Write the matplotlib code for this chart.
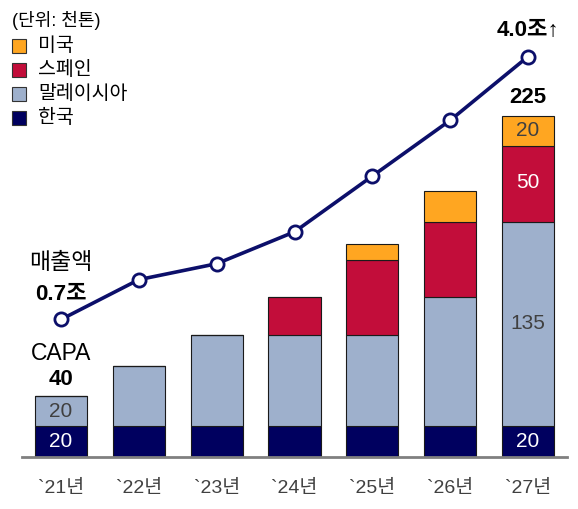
import matplotlib.pyplot as plt
from matplotlib.patches import Rectangle

plt.rcParams['font.family'] = ['Liberation Sans', 'Noto Sans CJK KR']

# 데이터 (단위: 천톤 / 조)
years = ['`21년', '`22년', '`23년', '`24년', '`25년', '`26년', '`27년']
korea = [20, 20, 20, 20, 20, 20, 20]
malaysia = [20, 40, 60, 60, 60, 85, 135]
spain = [0, 0, 0, 25, 50, 50, 50]
usa = [0, 0, 0, 0, 10, 20, 20]
revenue = [0.7, 1.2, 1.4, 1.8, 2.5, 3.2, 4.0]

series = [('한국', korea, '#00005f'),
          ('말레이시아', malaysia, '#9eb0cc'),
          ('스페인', spain, '#c20d3a'),
          ('미국', usa, '#ffa621')]

W, H = 578, 509
fig = plt.figure(figsize=(W / 100, H / 100), dpi=100)
base_px = 52.5
ax = fig.add_axes([0, base_px / H, 1, 1 - base_px / H])
ax.set_xlim(-0.784, 6.642)
ax.set_ylim(0, (H - base_px) / 1.515)
ax.axis('off')

x = list(range(len(years)))
bottom = [0] * len(years)
for name, vals, col in series:
    ax.bar(x, vals, width=0.67, bottom=bottom, color=col,
           edgecolor='#1a1a1a', linewidth=0.8, zorder=2)
    bottom = [b + v for b, v in zip(bottom, vals)]

# 기준선
ax.plot([-0.5, 6.5], [0, 0], color='#808080', lw=2, zorder=3, clip_on=False)

for i, lab in enumerate(years):
    ax.text(i, -21, lab, ha='center', va='center', fontsize=14, color='#404040')

# 막대 내부 값
ax.text(0, korea[0] / 2, str(korea[0]), ha='center', va='center', fontsize=15, color='white', zorder=4)
ax.text(0, korea[0] + malaysia[0] / 2, str(malaysia[0]), ha='center', va='center', fontsize=15, color='#404040', zorder=4)
ax.text(6, korea[6] / 2, str(korea[6]), ha='center', va='center', fontsize=15, color='white', zorder=4)
ax.text(6, korea[6] + malaysia[6] / 2, str(malaysia[6]), ha='center', va='center', fontsize=15, color='#404040', zorder=4)
ax.text(6, korea[6] + malaysia[6] + spain[6] / 2 + 1, str(spain[6]), ha='center', va='center', fontsize=15, color='white', zorder=4)
ax.text(6, bottom[6] - usa[6] / 2, str(usa[6]), ha='center', va='center', fontsize=15, color='#404040', zorder=4)

ax.text(0, bottom[0] + 28, 'CAPA', ha='center', va='center', fontsize=16.5)
ax.text(0, bottom[0] + 11, str(bottom[0]), ha='center', va='center', fontsize=16, fontweight='bold')
ax.text(6, bottom[6] + 12, str(bottom[6]), ha='center', va='center', fontsize=16, fontweight='bold')

# 매출액 라인
ax2 = fig.add_axes(ax.get_position(), sharex=ax)
ax2.set_ylim(-1.02, 4.71)
ax2.axis('off')
ax2.plot(x, revenue, color='#0c0f6a', lw=2.6, marker='o', ms=9.5,
         mfc='white', mec='#0c0f6a', mew=2, zorder=5)
ax2.text(0, revenue[0] + 0.72, '매출액', ha='center', va='center', fontsize=16.5)
ax2.text(0, revenue[0] + 0.31, f'{revenue[0]}조', ha='center', va='center', fontsize=16, fontweight='bold')
ax2.text(6, revenue[6] + 0.33, f'{revenue[6]}조↑', ha='center', va='center', fontsize=16, fontweight='bold')

# 범례
fig.text(12 / W, 1 - 20 / H, '(단위: 천톤)', ha='left', va='center', fontsize=13)
for k, (name, vals, col) in enumerate(series[::-1]):
    yc = 46 + 24 * k
    fig.patches.append(Rectangle((12 / W, 1 - (yc + 7) / H), 14 / W, 14 / H,
                                 transform=fig.transFigure, facecolor=col,
                                 edgecolor='#333333', lw=0.8))
    fig.text(38 / W, 1 - yc / H, name, ha='left', va='center', fontsize=14)

fig.savefig('out.png', dpi=100)
